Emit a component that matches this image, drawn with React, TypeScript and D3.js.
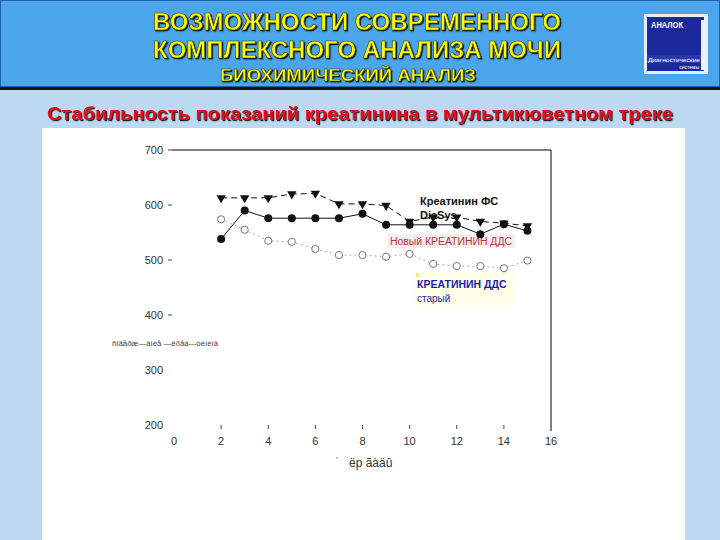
import React from "react";
import * as d3 from "d3";

const days = [2, 3, 4, 5, 6, 7, 8, 9, 10, 11, 12, 13, 14, 15];
const diasys = [613, 613, 613, 620, 621, 602, 602, 599, 570, 578, 578, 570, 567, 562];
const newDds = [538, 590, 576, 576, 576, 576, 584, 564, 564, 564, 564, 547, 565, 553];
const oldDds = [574, 555, 535, 533, 520, 509, 509, 506, 511, 493, 489, 489, 485, 499];
const yTicks = [700, 600, 500, 400, 300, 200];
const yTickMarks = [700, 600, 500, 400];
const xTicks = [0, 2, 4, 6, 8, 10, 12, 14, 16];
const xTickMarks = [2, 4, 6, 8, 10, 12, 14];

const titleLines = ["ВОЗМОЖНОСТИ СОВРЕМЕННОГО", "КОМПЛЕКСНОГО АНАЛИЗА МОЧИ"];
const subTitle = "БИОХИМИЧЕСКИЙ АНАЛИЗ";
const heading = "Стабильность показаний креатинина в мультикюветном треке";

export default function App() {
  const x = d3.scaleLinear().domain([0, 16]).range([174, 551]);
  const y = d3.scaleLinear().domain([200, 700]).range([425, 150]);
  const line = d3
    .line<number>()
    .x((_, i) => x(days[i]))
    .y((d) => y(d));
  const tri = d3.symbol().type(d3.symbolTriangle).size(38)();
  const font = "'Liberation Sans', Arial, sans-serif";

  return (
    <svg
      width={720}
      height={540}
      style={{ position: "absolute", left: 0, top: 0 }}
      fontFamily={font}
    >
      <defs>
        <filter id="sh" x="-5%" y="-20%" width="110%" height="140%">
          <feDropShadow dx="1.2" dy="1.2" stdDeviation="0.4" floodColor="#000" floodOpacity="0.9" />
        </filter>
      </defs>
      {/* backgrounds */}
      <rect x={0} y={0} width={720} height={540} fill="#bbdaf2" />
      <rect x={0} y={0} width={720} height={87} fill="#4aa5ea" />
      <rect x={0.5} y={0.5} width={719} height={86} fill="none" stroke="#1b5fa8" strokeWidth={1} />
      <rect x={0} y={87} width={720} height={3} fill="#111" />
      <rect x={42} y={128} width={643} height={412} fill="#ffffff" />

      {/* header */}
      {titleLines.map((t, i) => (
        <text
          key={t}
          x={357}
          y={30 + i * 28}
          textAnchor="middle"
          fontSize={23}
          fontWeight="bold"
          fill="#ffff00"
          stroke="#3a3a10"
          strokeWidth={0.6}
          filter="url(#sh)"
          textLength={408}
          lengthAdjust="spacingAndGlyphs"
        >
          {t}
        </text>
      ))}
      <text
        x={348}
        y={81}
        textAnchor="middle"
        fontSize={17}
        fontWeight="bold"
        fill="#ffff00"
        stroke="#3a3a10"
        strokeWidth={0.5}
        filter="url(#sh)"
        textLength={256}
        lengthAdjust="spacingAndGlyphs"
      >
        {subTitle}
      </text>

      {/* logo */}
      <rect x={644} y={14} width={64} height={60} fill="#e8eef8" />
      <rect x={647} y={17} width={57} height={54} fill="#1a2a9c" />
      <rect x={701} y={20} width={4} height={50} fill="#f0f0f0" />
      <text x={651} y={28} fontSize={8.5} fontWeight="bold" fill="#ffffff" textLength={32} lengthAdjust="spacingAndGlyphs">
        АНАЛОК
      </text>
      <rect x={647} y={55} width={54} height={8} fill="#2a3aa8" />
      <text x={648} y={61.5} fontSize={6} fill="#ffffff" textLength={52} lengthAdjust="spacingAndGlyphs">
        Диагностические
      </text>
      <text x={699} y={69} fontSize={5} fill="#ffffff" textAnchor="end">
        системы
      </text>

      {/* heading */}
      <text
        x={360}
        y={120}
        textAnchor="middle"
        fontSize={19}
        fontWeight="bold"
        fill="#e3101c"
        filter="url(#sh)"
        textLength={626}
        lengthAdjust="spacingAndGlyphs"
      >
        {heading}
      </text>

      {/* frame */}
      <line x1={172} y1={150} x2={551} y2={150} stroke="#000" strokeWidth={1} />
      <line x1={551} y1={150} x2={551} y2={431} stroke="#000" strokeWidth={1} />

      {/* y axis labels */}
      {yTicks.map((v) => (
        <text key={v} x={163} y={y(v) + 4} textAnchor="end" fontSize={11} fill="#333">
          {v}
        </text>
      ))}
      {yTickMarks.map((v) => (
        <line key={v} x1={168} x2={172} y1={y(v)} y2={y(v)} stroke="#444" strokeWidth={1} />
      ))}
      {/* x axis labels */}
      {xTicks.map((v) => (
        <text key={v} x={x(v)} y={445} textAnchor="middle" fontSize={11} fill="#333">
          {v}
        </text>
      ))}
      {xTickMarks.map((v) => (
        <line key={v} x1={x(v)} x2={x(v)} y1={425} y2={429} stroke="#444" strokeWidth={1} />
      ))}

      {/* axis titles (garbled encoding as in source) */}
      <text x={112} y={346} fontSize={8} fill="#444" textLength={106} lengthAdjust="spacingAndGlyphs">
        ñîäåðæ—àíèå —êðåà—òèíèíà
      </text>
      <text x={336} y={463} fontSize={9} fill="#666">
        '
      </text>
      <text x={349} y={467} fontSize={12} fill="#333">
        ёр ãàäû
      </text>

      {/* legend backgrounds */}
      <rect x={387} y={234} width={128} height={14} fill="#f8eeee" />
      <rect x={415} y={272} width={98} height={33} fill="#fffee8" />
      <rect x={416} y={273} width={3} height={4} fill="#f5ee60" />

      {/* legend text */}
      <text x={420} y={205} fontSize={11} fontWeight="bold" fill="#111">
        Креатинин ФС
      </text>
      <text x={420} y={219} fontSize={11} fontWeight="bold" fill="#111">
        DiaSys
      </text>
      <text x={390} y={245} fontSize={10} fill="#c03038" textLength={122} lengthAdjust="spacingAndGlyphs">
        Новый КРЕАТИНИН ДДС
      </text>
      <text x={417} y={288} fontSize={10.5} fontWeight="bold" fill="#1c1ca8">
        КРЕАТИНИН ДДС
      </text>
      <text x={417} y={302} fontSize={10} fill="#1c1ca8">
        старый
      </text>

      {/* old series: open circles dotted */}
      <path d={line(oldDds) || ""} fill="none" stroke="#aaa" strokeWidth={1} strokeDasharray="2,3" />
      {oldDds.map((v, i) => (
        <circle key={i} cx={x(days[i])} cy={y(v)} r={3.6} fill="#fff" stroke="#777" strokeWidth={1} />
      ))}

      {/* diasys: triangles dashed */}
      <path d={line(diasys) || ""} fill="none" stroke="#111" strokeWidth={1} strokeDasharray="6,4" />
      {diasys.map((v, i) => (
        <path
          key={i}
          d={tri}
          transform={`translate(${x(days[i])},${y(v)}) rotate(180)`}
          fill="#111"
        />
      ))}

      {/* new series: filled circles solid */}
      <path d={line(newDds) || ""} fill="none" stroke="#111" strokeWidth={1} />
      {newDds.map((v, i) => (
        <circle key={i} cx={x(days[i])} cy={y(v)} r={4} fill="#111" />
      ))}
    </svg>
  );
}
